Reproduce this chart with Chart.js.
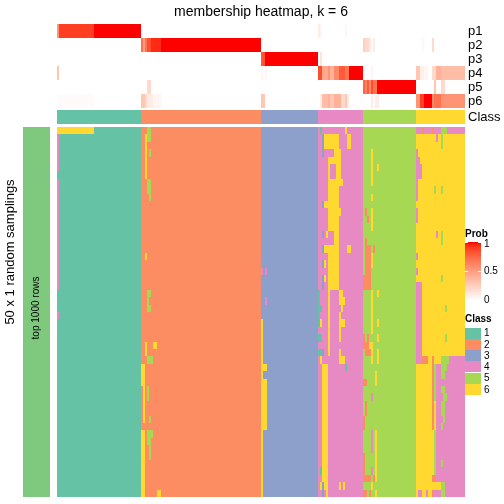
<!DOCTYPE html>
<html>
<head>
<meta charset="utf-8">
<script src="https://cdn.jsdelivr.net/npm/chart.js@4.4.0/dist/chart.umd.min.js"></script>
<style>
  html, body { margin: 0; padding: 0; background: #ffffff; }
  #chart { display: block; }
</style>
</head>
<body>
<canvas id="chart" width="504" height="504"></canvas>
<script>
// ========================================
// DATA
// ========================================
const chartTitle = 'membership heatmap, k = 6';
const classNames = ['1', '2', '3', '4', '5', '6'];
const classSizes = [41, 59, 28, 22, 26, 24];          // samples per consensus class
const classColors = ['#66C2A5', '#FC8D62', '#8DA0CB', '#E78AC3', '#A6D854', '#FFD92F'];
const probNames = ['p1', 'p2', 'p3', 'p4', 'p5', 'p6'];
const probTicks = [0, 0.5, 1];
const nSamplings = 50;
const samplingLabel = '50 x 1 random samplings';
const rowSetLabel = 'top 1000 rows';

// membership probability, runs of [firstCol, lastCol, prob]
const p1 = [[0, 0, 0.55], [1, 17, 0.9], [18, 40, 1], [128, 128, 0.1], [129, 129, 0.05], [141, 141, 0.05]];
const p2 = [[41, 41, 0.7], [42, 42, 0.5], [43, 43, 0.7], [44, 45, 0.85], [46, 50, 0.95], [51, 99, 1],
            [150, 150, 0.25], [151, 152, 0.2], [153, 153, 0.12], [155, 155, 0.1], [179, 179, 0.04], [184, 184, 0.2]];
const p3 = [[100, 100, 0.8], [101, 101, 0.85], [102, 127, 1], [129, 129, 0.15]];
const p4 = [[0, 0, 0.3], [100, 100, 0.05], [102, 102, 0.05], [128, 129, 0.85], [130, 132, 0.45], [133, 133, 0.55],
            [134, 135, 0.4], [136, 137, 0.6], [138, 140, 0.8], [141, 142, 0.7], [143, 149, 1], [154, 154, 0.05],
            [176, 177, 0.3], [178, 179, 0.08], [180, 181, 0.05], [184, 185, 0.2], [186, 187, 0.4], [188, 199, 0.35]];
const p5 = [[44, 45, 0.2], [150, 150, 0.75], [151, 151, 0.65], [152, 152, 0.8], [153, 153, 0.6], [154, 154, 0.85],
            [155, 156, 0.7], [157, 175, 1], [185, 185, 0.3], [188, 189, 0.2]];
const p6 = [[0, 17, 0.02], [41, 42, 0.3], [43, 43, 0.2], [44, 46, 0.1], [47, 50, 0.05], [100, 101, 0.3],
            [129, 129, 0.1], [130, 132, 0.35], [133, 133, 0.4], [134, 135, 0.3], [136, 138, 0.4], [139, 140, 0.2],
            [141, 141, 0.3], [142, 142, 0.1], [154, 154, 0.1], [156, 157, 0.1], [176, 177, 0.55], [178, 179, 0.9],
            [180, 183, 1], [184, 184, 0.6], [185, 187, 0.7], [188, 199, 0.55]];

// class given in a sampling where it differs from the consensus: [class, firstRow, lastRow, firstCol, lastCol]
const classSwitches = [
    // class 1 block
    [6, 0, 0, 0, 17], [4, 1, 5, 0, 0], [4, 7, 21, 0, 0], [4, 25, 25, 0, 0],
    // class 2 block
    [5, 0, 1, 44, 45], [6, 1, 6, 43, 43], [5, 3, 3, 45, 45], [5, 7, 8, 44, 45], [5, 9, 9, 45, 45],
    [6, 17, 17, 43, 43], [5, 22, 22, 44, 45], [5, 23, 23, 44, 44], [5, 24, 24, 44, 45],
    [6, 29, 30, 43, 43], [6, 29, 29, 47, 48], [5, 31, 31, 44, 46], [6, 32, 34, 41, 42], [6, 35, 39, 42, 42],
    [5, 35, 36, 44, 44], [5, 39, 39, 45, 45], [6, 41, 49, 41, 42], [5, 41, 41, 44, 46], [5, 42, 42, 44, 45],
    [5, 43, 44, 45, 45], [6, 49, 49, 49, 50],
    // class 3 block
    [4, 19, 19, 100, 100], [4, 19, 19, 102, 102], [4, 23, 23, 102, 102], [6, 26, 49, 100, 100],
    [6, 32, 32, 101, 102], [6, 34, 40, 101, 102],
    // class 4 block
    [1, 0, 0, 129, 129], [6, 0, 0, 141, 141], [3, 1, 3, 130, 130], [6, 1, 2, 131, 137], [6, 1, 2, 142, 143],
    [6, 3, 3, 136, 138], [6, 4, 7, 133, 138], [4, 5, 6, 134, 136], [6, 7, 7, 139, 139], [6, 8, 9, 133, 137],
    [3, 10, 10, 130, 130], [6, 10, 10, 131, 137], [6, 11, 11, 133, 138], [6, 12, 13, 133, 137],
    [3, 14, 14, 130, 130], [6, 14, 14, 132, 132], [6, 14, 15, 136, 137], [3, 16, 16, 130, 130],
    [6, 16, 16, 131, 137], [6, 16, 16, 142, 143], [6, 17, 17, 133, 137], [3, 18, 18, 130, 130],
    [6, 18, 18, 131, 131], [6, 18, 19, 133, 137], [3, 20, 21, 130, 130], [6, 20, 20, 131, 131],
    [6, 20, 21, 133, 137], [1, 22, 23, 128, 128], [6, 22, 30, 133, 133], [6, 22, 22, 138, 139],
    [6, 23, 23, 138, 140], [1, 24, 24, 128, 129], [6, 24, 24, 139, 139], [1, 25, 26, 128, 128],
    [6, 25, 25, 138, 138], [6, 26, 26, 129, 129], [6, 26, 26, 138, 140], [6, 27, 28, 138, 138],
    [1, 28, 28, 128, 129], [1, 30, 30, 128, 129], [3, 30, 30, 130, 130], [6, 30, 30, 138, 138],
    [6, 31, 31, 129, 129], [6, 31, 31, 138, 140], [6, 32, 47, 130, 132], [1, 32, 32, 141, 141],
    [1, 46, 46, 129, 129], [6, 48, 48, 129, 129], [3, 48, 49, 130, 130], [6, 48, 48, 131, 132],
    [6, 49, 49, 132, 132], [6, 48, 48, 138, 138], [6, 48, 48, 140, 140],
    // class 5 block
    [6, 3, 7, 154, 154], [6, 5, 5, 157, 157], [6, 9, 9, 154, 154], [2, 11, 11, 151, 151], [6, 11, 13, 154, 154],
    [2, 12, 12, 152, 152], [2, 15, 15, 151, 151], [2, 16, 19, 151, 153], [2, 16, 16, 155, 155],
    [6, 17, 18, 154, 154], [2, 20, 21, 150, 153], [6, 22, 27, 154, 154], [6, 22, 22, 157, 157],
    [6, 26, 26, 157, 157], [2, 28, 28, 150, 150], [2, 28, 28, 152, 152], [6, 28, 28, 157, 157],
    [2, 29, 29, 150, 152], [6, 29, 29, 153, 154], [2, 30, 30, 151, 153], [6, 30, 31, 154, 154],
    [6, 30, 31, 157, 157], [6, 33, 34, 156, 156], [2, 34, 34, 150, 151], [4, 36, 36, 154, 154],
    [2, 37, 38, 151, 151], [2, 39, 40, 150, 150], [4, 41, 43, 154, 154], [6, 41, 47, 156, 156],
    [2, 44, 46, 150, 150], [4, 46, 46, 154, 154], [2, 47, 47, 150, 153], [2, 47, 47, 155, 155],
    [6, 48, 48, 154, 154], [2, 49, 49, 150, 151], [2, 49, 49, 153, 153], [6, 49, 49, 156, 156],
    // class 6 block
    [4, 0, 0, 176, 178], [2, 0, 0, 179, 179], [4, 0, 0, 180, 183], [2, 0, 0, 184, 184], [4, 0, 0, 185, 187],
    [5, 0, 0, 188, 190], [4, 0, 0, 191, 199], [4, 1, 1, 186, 186], [5, 1, 2, 188, 188], [4, 3, 3, 176, 176],
    [4, 4, 4, 176, 177], [4, 5, 6, 176, 178], [4, 7, 9, 176, 176], [5, 8, 8, 185, 185], [5, 8, 8, 188, 188],
    [4, 11, 12, 176, 176], [4, 14, 14, 186, 186], [5, 14, 15, 188, 188], [4, 17, 17, 176, 176],
    [4, 19, 19, 176, 176], [5, 20, 20, 188, 188], [4, 21, 31, 176, 178], [5, 24, 24, 190, 190],
    [5, 28, 28, 190, 190], [2, 31, 31, 179, 181], [2, 31, 31, 184, 184], [5, 31, 31, 188, 191],
    [4, 31, 31, 192, 199], [2, 32, 40, 184, 184], [5, 32, 36, 185, 185], [4, 32, 49, 186, 199],
    [5, 32, 32, 188, 190], [5, 33, 33, 188, 189], [5, 35, 35, 188, 189], [5, 36, 36, 189, 190],
    [5, 37, 38, 188, 189], [5, 39, 39, 189, 189], [5, 40, 40, 188, 188], [5, 41, 46, 185, 185],
    [5, 45, 45, 188, 188], [2, 47, 47, 184, 185], [6, 48, 48, 185, 187], [5, 48, 48, 188, 189],
    [4, 49, 49, 177, 178], [4, 49, 49, 181, 181], [2, 49, 49, 184, 184], [4, 49, 49, 185, 185],
    [5, 49, 49, 188, 189]
];

// ========================================
// BUILD MATRICES
// ========================================
const nCols = classSizes.reduce((a, b) => a + b, 0);
const consensus = [];
classSizes.forEach((n, i) => { for (let k = 0; k < n; k++) consensus.push(i + 1); });

const samplingGrid = [];
for (let r = 0; r < nSamplings; r++) samplingGrid.push(consensus.slice());
classSwitches.forEach(([cls, r0, r1, c0, c1]) => {
    for (let r = r0; r <= r1; r++) for (let c = c0; c <= c1; c++) samplingGrid[r][c] = cls;
});

const probMatrix = [p1, p2, p3, p4, p5, p6].map(runs => {
    const row = new Array(nCols).fill(0);
    runs.forEach(([c0, c1, v]) => { for (let c = c0; c <= c1; c++) row[c] = v; });
    return row;
});

// white -> red, interpolated in Lab like colorRamp2
function probColor(p) {
    const L = 100 + (53.24 - 100) * p, A = 80.09 * p, B = 67.2 * p;
    const fy = (L + 16) / 116, fx = fy + A / 500, fz = fy - B / 200;
    const inv = t => (t * t * t > 0.008856 ? t * t * t : (t - 16 / 116) / 7.787);
    const X = 0.95047 * inv(fx), Y = inv(fy), Z = 1.08883 * inv(fz);
    const lin = [3.2406 * X - 1.5372 * Y - 0.4986 * Z,
                 -0.9689 * X + 1.8758 * Y + 0.0415 * Z,
                 0.0557 * X - 0.2040 * Y + 1.0570 * Z];
    const rgb = lin.map(v => {
        const s = v <= 0.0031308 ? 12.92 * v : 1.055 * Math.pow(v, 1 / 2.4) - 0.055;
        return Math.max(0, Math.min(255, Math.round(s * 255)));
    });
    return `rgb(${rgb[0]}, ${rgb[1]}, ${rgb[2]})`;
}

// ========================================
// LAYOUT (pixels)
// ========================================
const ROW_PX = 370 / nSamplings;   // height of one sampling row
const ANNO_PX = 14;                // height of p / Class rows
const CLASS_ROW_TOP = 86;
const MAIN_TOP = 103;              // offset from chart top to first sampling row
const FONT = '"Liberation Sans", Arial, sans-serif';

const heatmapPlugin = {
    id: 'heatmap',
    afterDraw(chart) {
        const { ctx, scales: { x, y }, chartArea } = chart;
        const px = v => Math.round(x.getPixelForValue(v));
        const py = v => Math.round(y.getPixelForValue(v));
        const unitsAt = off => (off - MAIN_TOP) / ROW_PX;   // pixel offset -> y value

        ctx.save();

        // membership rows
        probMatrix.forEach((row, k) => {
            const y0 = py(unitsAt(k * ANNO_PX)), y1 = py(unitsAt((k + 1) * ANNO_PX));
            row.forEach((v, c) => {
                ctx.fillStyle = probColor(v);
                ctx.fillRect(px(c), y0, px(c + 1) - px(c), y1 - y0);
            });
        });

        // class annotation row
        const cy0 = py(unitsAt(CLASS_ROW_TOP)), cy1 = py(unitsAt(CLASS_ROW_TOP + ANNO_PX));
        consensus.forEach((cls, c) => {
            ctx.fillStyle = classColors[cls - 1];
            ctx.fillRect(px(c), cy0, px(c + 1) - px(c), cy1 - cy0);
        });

        // sampling rows
        samplingGrid.forEach((row, r) => {
            const y0 = py(r), y1 = py(r + 1);
            let start = 0;
            for (let c = 1; c <= nCols; c++) {
                if (c === nCols || row[c] !== row[start]) {
                    ctx.fillStyle = classColors[row[start] - 1];
                    ctx.fillRect(px(start), y0, px(c) - px(start), y1 - y0);
                    start = c;
                }
            }
        });

        // row-set bar on the left
        const barL = chartArea.left - 34, barR = chartArea.left - 7;
        ctx.fillStyle = '#7FC97F';
        ctx.fillRect(barL, py(0), barR - barL, py(nSamplings) - py(0));

        ctx.fillStyle = '#000000';
        ctx.textBaseline = 'middle';

        // title
        ctx.font = `14px ${FONT}`;
        ctx.textAlign = 'center';
        ctx.fillText(chartTitle, (chartArea.left + chartArea.right) / 2, 12);

        // row names on the right
        ctx.font = `13px ${FONT}`;
        ctx.textAlign = 'left';
        probNames.forEach((name, k) => {
            ctx.fillText(name, chartArea.right + 3, (py(unitsAt(k * ANNO_PX)) + py(unitsAt((k + 1) * ANNO_PX))) / 2);
        });
        ctx.fillText('Class', chartArea.right + 3, (cy0 + cy1) / 2);

        // rotated labels
        ctx.save();
        ctx.translate(10, 252);
        ctx.rotate(-Math.PI / 2);
        ctx.textAlign = 'center';
        ctx.font = `13px ${FONT}`;
        ctx.fillText(samplingLabel, 0, 0);
        ctx.restore();

        ctx.save();
        ctx.translate((barL + barR) / 2, 308);
        ctx.rotate(-Math.PI / 2);
        ctx.textAlign = 'center';
        ctx.font = `10px ${FONT}`;
        ctx.fillText(rowSetLabel, 0, 0);
        ctx.restore();

        // Prob legend
        const lx = 465, lw = 16, gTop = 242, gBot = 300;
        ctx.textAlign = 'left';
        ctx.font = `bold 10px ${FONT}`;
        ctx.fillText('Prob', lx, 234);
        for (let yy = gTop; yy < gBot; yy++) {
            ctx.fillStyle = probColor(1 - (yy - gTop) / (gBot - gTop));
            ctx.fillRect(lx, yy, lw, 1);
        }
        ctx.font = `10px ${FONT}`;
        probTicks.forEach(t => {
            const ty = gBot - t * (gBot - gTop);
            ctx.fillStyle = '#ffffff';
            ctx.fillRect(lx, Math.round(ty), 3, 1);
            ctx.fillRect(lx + lw - 3, Math.round(ty), 3, 1);
            ctx.fillStyle = '#000000';
            ctx.fillText(String(t), lx + lw + 3, Math.min(ty, gBot) + (t === 1 ? 2 : 0));
        });

        // Class legend
        ctx.font = `bold 10px ${FONT}`;
        ctx.fillText('Class', lx, 319);
        ctx.font = `10px ${FONT}`;
        classNames.forEach((name, i) => {
            const by = 327.5 + i * 11.3;
            ctx.fillStyle = classColors[i];
            ctx.fillRect(lx, Math.round(by), lw, 11);
            ctx.fillStyle = '#000000';
            ctx.fillText(name, lx + lw + 3, by + 6);
        });

        ctx.restore();
    }
};

// ========================================
// CHART INITIALIZATION
// ========================================
new Chart(document.getElementById('chart').getContext('2d'), {
    type: 'scatter',
    data: { datasets: [] },
    options: {
        responsive: false,
        animation: false,
        layout: { padding: { left: 57, right: 39, top: 24, bottom: 7 } },
        plugins: {
            legend: { display: false },
            tooltip: { enabled: false },
            title: { display: false }
        },
        scales: {
            x: { type: 'linear', min: 0, max: nCols, display: false },
            y: { type: 'linear', min: -MAIN_TOP / ROW_PX, max: nSamplings, reverse: true, display: false }
        }
    },
    plugins: [heatmapPlugin]
});
</script>
</body>
</html>
